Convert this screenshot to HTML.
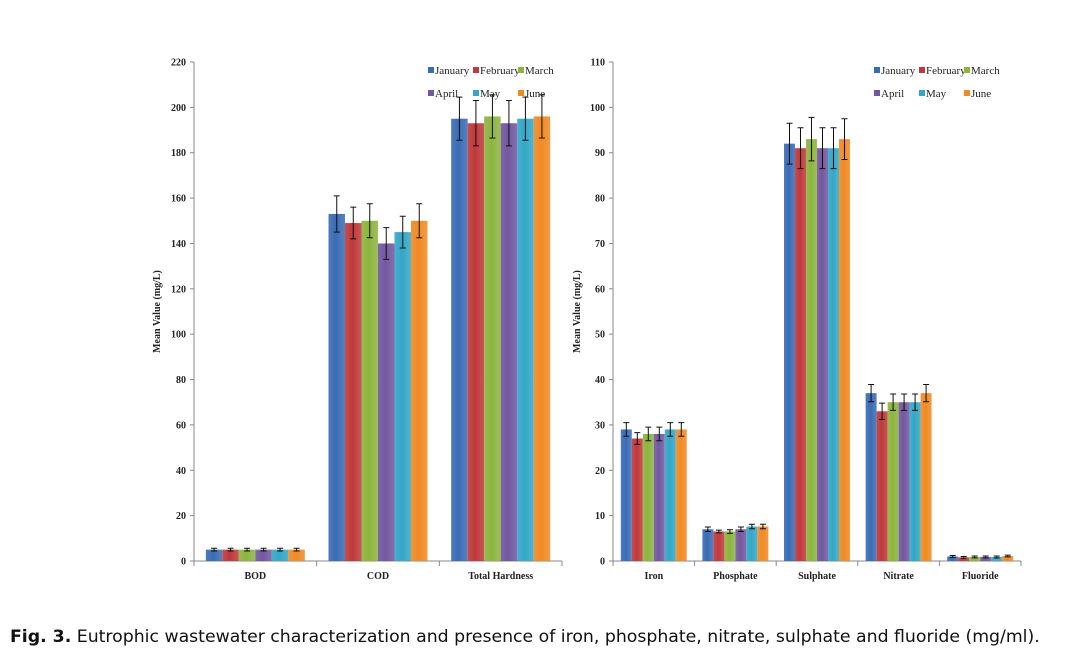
<!DOCTYPE html>
<html><head><meta charset="utf-8"><style>
body{margin:0;background:#fff;width:1077px;height:650px;overflow:hidden}
svg text{font-family:"Liberation Serif",serif}
</style></head><body>
<svg id="c" width="1077" height="650" xmlns="http://www.w3.org/2000/svg">
<defs></defs>
<text x="10" y="642" style="font-family:'DejaVu Sans',sans-serif;font-size:17.3px" fill="#111"><tspan font-weight="bold">Fig. 3.</tspan> Eutrophic wastewater characterization and presence of iron, phosphate, nitrate, sulphate and fluoride (mg/ml).</text>
</svg>
<script>
const months=["January","February","March","April","May","June"];
const colors=["#3a6cb5","#c0393b","#8db43e","#7357a0","#33a7c7","#f08a24"];
const leftCats=["BOD","COD","Total Hardness"];
const leftVals=[[5,5,5,5,5,5],[153,149,150,140,145,150],[195,193,196,193,195,196]];
const leftErr=[[0.6,0.6,0.6,0.6,0.6,0.6],[8,7,7.5,7,7,7.5],[9.5,10,9.5,10,9.5,9.5]];
const leftTicks=[0,20,40,60,80,100,120,140,160,180,200,220];
const rightCats=["Iron","Phosphate","Sulphate","Nitrate","Fluoride"];
const rightVals=[[29,27,28,28,29,29],[7,6.5,6.5,7,7.6,7.6],[92,91,93,91,91,93],[37,33,35,35,35,37],[1,0.8,0.9,0.9,0.9,1.1]];
const rightErr=[[1.5,1.3,1.5,1.5,1.5,1.5],[0.5,0.3,0.4,0.5,0.5,0.5],[4.5,4.5,4.8,4.5,4.5,4.5],[1.9,1.8,1.8,1.8,1.8,1.9],[0.2,0.2,0.2,0.2,0.2,0.2]];
const rightTicks=[0,10,20,30,40,50,60,70,80,90,100,110];
const NS="http://www.w3.org/2000/svg";
const svg=document.getElementById('c');
const defs=svg.querySelector('defs');
colors.forEach((c,i)=>{
 const g=document.createElementNS(NS,'linearGradient');g.id='g'+i;
 g.innerHTML=`<stop offset="0" stop-color="${c}" stop-opacity="0.9"/><stop offset="0.45" stop-color="${c}"/><stop offset="1" stop-color="${c}" stop-opacity="0.85"/>`;
 defs.appendChild(g);
});
function el(t,a,p){const e=document.createElementNS(NS,t);for(const k in a)e.setAttribute(k,a[k]);(p||svg).appendChild(e);return e;}
function chart(o){
 const y=v=>o.y0-(v/o.max)*(o.y0-o.y1);
 const cw=(o.x1-o.x0)/o.cats.length;
 const a1=el('line',{x1:o.x0,y1:o.y1,x2:o.x0,y2:o.y0,stroke:'#888'});
 
 const a2=el('line',{x1:o.x0,y1:o.y0,x2:o.x1,y2:o.y0,stroke:'#888'});
 
 o.ticks.forEach(t=>{
  el('line',{x1:o.x0-4,x2:o.x0,y1:y(t),y2:y(t),stroke:'#888'});
  const tx=el('text',{x:o.x0-8,y:y(t)+3.5,'text-anchor':'end','font-size':'10','font-weight':'bold',fill:'#222'});tx.textContent=t;
  
 });
 for(let i=0;i<=o.cats.length;i++)el('line',{x1:o.x0+i*cw,x2:o.x0+i*cw,y1:o.y0,y2:o.y0+5,stroke:'#888'});
 o.cats.forEach((c,i)=>{
  const cx=o.x0+cw*(i+0.5);
  const lt=el('text',{x:cx,y:o.y0+18,'text-anchor':'middle','font-size':'10','font-weight':'bold',fill:'#222'});lt.textContent=c;
  
  const bw=o.bw, gx=cx-bw*3;
  o.vals[i].forEach((v,j)=>{
   const r=el('rect',{x:gx+j*bw,y:y(v),width:bw,height:o.y0-y(v),fill:'url(#g'+j+')'});
   
   
   const e=o.err[i][j],mx=gx+j*bw+bw/2;
   const eb=el('path',{d:`M${mx},${y(v+e)}V${y(v-e)}M${mx-3},${y(v+e)}h6M${mx-3},${y(v-e)}h6`,stroke:'#111','stroke-width':1,fill:'none'});
   
  });
 });
 const yt=el('text',{x:0,y:0,transform:`translate(${o.tx},${(o.y0+o.y1)/2}) rotate(-90)`,'text-anchor':'middle','font-size':'10','font-weight':'bold',fill:'#222'});
 yt.textContent='Mean  Value  (mg/L)';
 
 months.forEach((m,j)=>{
  const lx=o.lx+(j%3)*45, ly=(j<3?74:97);
  const g=el('g',{});
  
  el('rect',{x:lx,y:ly-7,width:6,height:6,fill:colors[j]},g);
  const t=el('text',{x:lx+7,y:ly,'font-size':'11',fill:'#222'},g);t.textContent=m;
 });
}
chart({id:'left-chart',x0:194,x1:562,y0:561,y1:62,max:220,cats:leftCats,vals:leftVals,err:leftErr,ticks:leftTicks,bw:16.5,tx:160,lx:428});
chart({id:'right-chart',x0:613,x1:1021,y0:561,y1:62,max:110,cats:rightCats,vals:rightVals,err:rightErr,ticks:rightTicks,bw:11,tx:580,lx:874});
</script>
</body></html>
